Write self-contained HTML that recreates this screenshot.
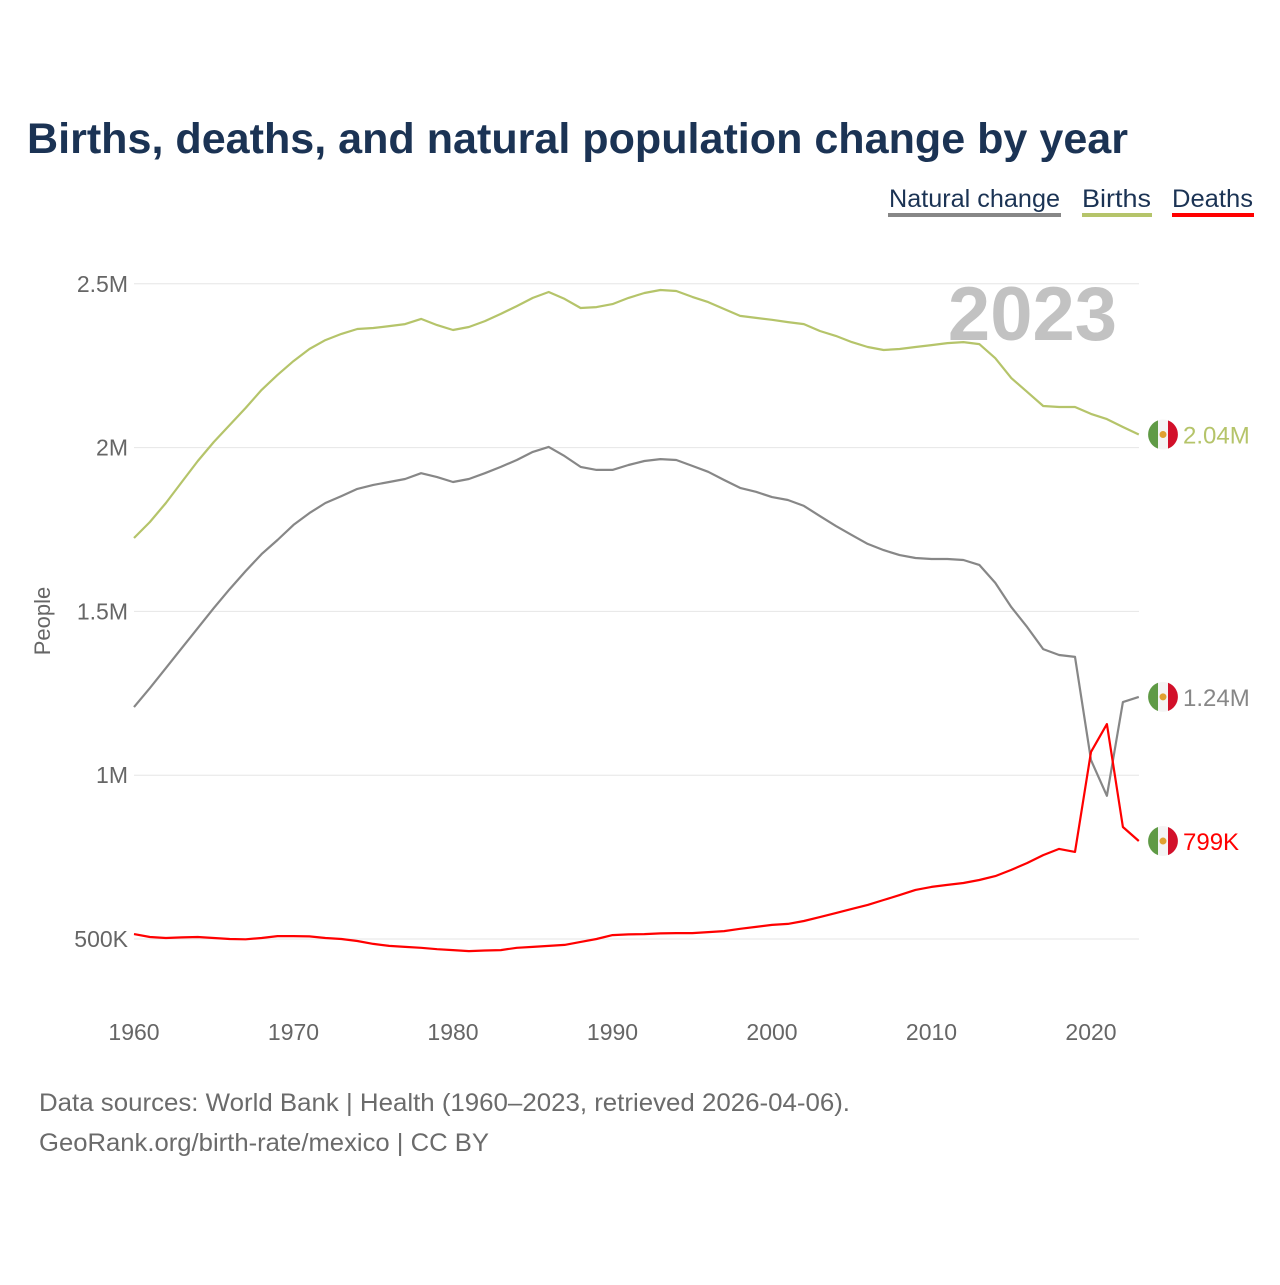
<!DOCTYPE html>
<html><head><meta charset="utf-8"><style>
body{margin:0;background:#fff;}
svg text{font-family:"Liberation Sans",sans-serif;}
</style></head><body>
<svg id="chart" width="1280" height="1280" xmlns="http://www.w3.org/2000/svg">
<text x="27" y="153" font-size="43" font-weight="bold" fill="#1b3354" textLength="1101" lengthAdjust="spacingAndGlyphs">Births, deaths, and natural population change by year</text>
<g>
<g><text x="889" y="207" font-size="25" fill="#1b3354" textLength="171" lengthAdjust="spacingAndGlyphs">Natural change</text><rect x="888" y="213" width="173" height="4" fill="#878787"/></g>
<g><text x="1082" y="207" font-size="25" fill="#1b3354" textLength="69" lengthAdjust="spacingAndGlyphs">Births</text><rect x="1082" y="213" width="70" height="4" fill="#b5c46a"/></g>
<g><text x="1172" y="207" font-size="25" fill="#1b3354" textLength="81" lengthAdjust="spacingAndGlyphs">Deaths</text><rect x="1172" y="213" width="82" height="4" fill="#ff0000"/></g>
</g>
<g id="grid"></g>
<g id="yticks"></g>
<g id="xticks"></g>
<text x="1117" y="340" font-size="76" font-weight="bold" fill="#c2c2c2" text-anchor="end">2023</text>
<text transform="translate(50,621) rotate(-90)" font-size="22" fill="#666" text-anchor="middle">People</text>
<g id="series"></g>
<g id="labels"></g>
<text x="39" y="1111" font-size="25" fill="#6b6b6b" textLength="811" lengthAdjust="spacingAndGlyphs">Data sources: World Bank | Health (1960–2023, retrieved 2026-04-06).</text>
<text x="39" y="1151" font-size="25" fill="#6b6b6b" textLength="450" lengthAdjust="spacingAndGlyphs">GeoRank.org/birth-rate/mexico | CC BY</text>
</svg>
<script>
const years=[];for(let y=1960;y<=2023;y++)years.push(y);
const births=[1.724,1.773,1.831,1.895,1.959,2.017,2.069,2.121,2.176,2.222,2.264,2.301,2.328,2.347,2.362,2.365,2.371,2.377,2.393,2.374,2.359,2.368,2.386,2.408,2.432,2.457,2.475,2.454,2.426,2.429,2.438,2.457,2.472,2.481,2.478,2.460,2.444,2.423,2.402,2.396,2.390,2.383,2.377,2.356,2.341,2.322,2.307,2.298,2.301,2.307,2.313,2.319,2.322,2.316,2.273,2.212,2.170,2.127,2.124,2.124,2.103,2.087,2.063,2.040];
const natural=[1.208,1.266,1.327,1.388,1.449,1.510,1.568,1.623,1.675,1.718,1.764,1.800,1.831,1.852,1.874,1.886,1.895,1.904,1.922,1.910,1.895,1.904,1.922,1.941,1.962,1.987,2.002,1.974,1.941,1.932,1.932,1.947,1.959,1.965,1.962,1.944,1.926,1.901,1.877,1.865,1.849,1.840,1.822,1.791,1.761,1.733,1.706,1.687,1.672,1.663,1.660,1.660,1.657,1.642,1.587,1.513,1.452,1.385,1.367,1.361,1.046,0.937,1.223,1.239];
const deaths=[0.515,0.506,0.503,0.505,0.506,0.503,0.500,0.499,0.503,0.509,0.509,0.508,0.503,0.500,0.494,0.485,0.479,0.476,0.473,0.469,0.466,0.463,0.465,0.466,0.473,0.476,0.479,0.482,0.491,0.500,0.512,0.514,0.515,0.517,0.518,0.518,0.521,0.524,0.531,0.537,0.543,0.546,0.555,0.567,0.579,0.592,0.604,0.619,0.634,0.650,0.659,0.665,0.671,0.680,0.692,0.711,0.732,0.756,0.775,0.766,1.071,1.156,0.842,0.799];
const yTicks=[0.5,1,1.5,2,2.5];
const yTickLabels=["500K","1M","1.5M","2M","2.5M"];
const xTicks=[1960,1970,1980,1990,2000,2010,2020];
const endLabels=["2.04M","1.24M","799K"];
const NS="http://www.w3.org/2000/svg";
const X=y=>134+(y-1960)*15.95;
const Y=v=>939-(v-0.5)*327.6;
function mk(tag,attrs,parent){const e=document.createElementNS(NS,tag);for(const k in attrs)e.setAttribute(k,attrs[k]);parent.appendChild(e);return e;}
const grid=document.getElementById('grid'),yt=document.getElementById('yticks'),xt=document.getElementById('xticks');
yTicks.forEach((v,i)=>{
 const l=mk('line',{x1:134,x2:1139,y1:Y(v),y2:Y(v),stroke:'#e6e6e6','stroke-width':1},grid);
 
 
 const t=mk('text',{x:128,y:Y(v)+8,'font-size':23,fill:'#666','text-anchor':'end'},yt);
 t.textContent=yTickLabels[i];
 
 
});
xTicks.forEach(v=>{
 const t=mk('text',{x:X(v),y:1040,'font-size':23,fill:'#666','text-anchor':'middle'},xt);
 t.textContent=v;
 
 
});
const ser=document.getElementById('series'),lab=document.getElementById('labels');
const defs=[[births,'#b5c46a','births-line'],[natural,'#878787','natural-change-line'],[deaths,'#ff0000','deaths-line']];
defs.forEach(([d,c,n],i)=>{
 const p=mk('path',{d:d.map((v,j)=>(j?'L':'M')+X(years[j]).toFixed(1)+','+Y(v).toFixed(1)).join(''),fill:'none',stroke:c,'stroke-width':2.2,'stroke-linejoin':'round'},ser);
 
 
 const last=d[d.length-1],cx=1163,cy=Y(last);
 const g=mk('g',{},lab);
 
 
 mk('circle',{cx:cx,cy:cy,r:15,fill:'#f4f4f4'},g);
 mk('path',{d:`M${cx-5},${cy-14.1} A15,15 0 0,0 ${cx-5},${cy+14.1} Z`,fill:'#5f9a45'},g);
 mk('path',{d:`M${cx+5},${cy-14.1} A15,15 0 0,1 ${cx+5},${cy+14.1} Z`,fill:'#d2102a'},g);
 mk('circle',{cx:cx,cy:cy,r:3.5,fill:'#e0a030'},g);
 const t=mk('text',{x:1183,y:cy+9,'font-size':24,fill:c},g);
 t.textContent=endLabels[i];
});
</script>
</body></html>
